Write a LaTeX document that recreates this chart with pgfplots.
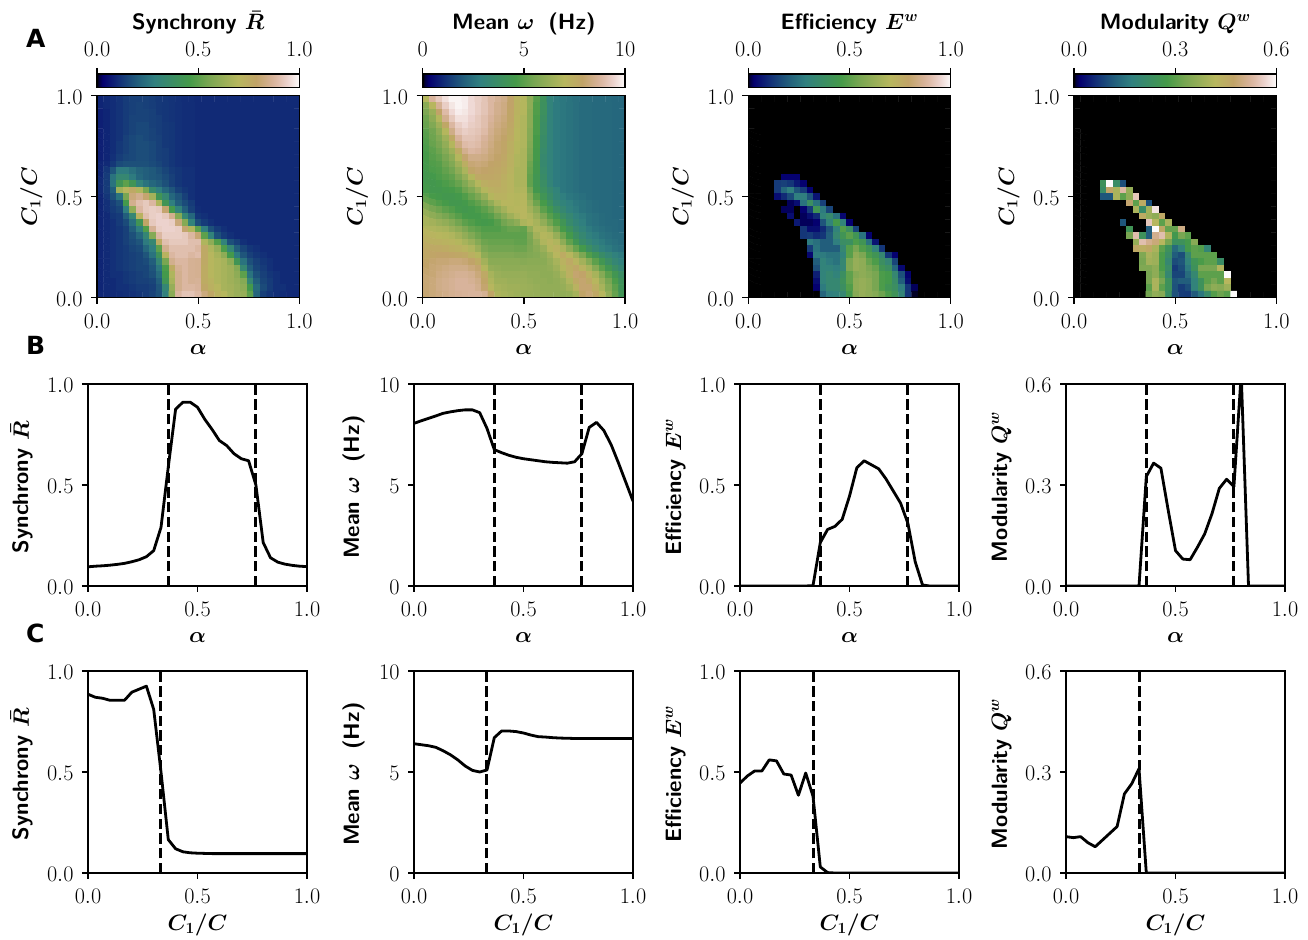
\RequirePackage{fix-cm}
\documentclass[border=0pt]{standalone}
\usepackage[no-math]{fontspec}
\usepackage{pgfplots}
\usepackage{pgfplotstable}
\pgfplotsset{compat=1.18}
\newfontfamily\panelfont{DejaVu Sans}
\newcommand{\tickfont}{\fontsize{22.2}{26}\selectfont}
\newcommand{\labfont}{\fontsize{22.2}{26}\selectfont\sffamily\bfseries\boldmath}

\pgfplotsset{colormap={gistx}{
 rgb(0cm)=(0,0,0) rgb(10cm)=(0,0,0) rgb(10.78cm)=(.0052,0,.2212) rgb(12.75cm)=(.0183,0,.4329)
 rgb(21cm)=(.0733,.1893,.4691) rgb(26.5cm)=(.1099,.3035,.4791) rgb(30.78cm)=(.1385,.3841,.4869)
 rgb(38.24cm)=(.1882,.502,.5004) rgb(55.88cm)=(.2714,.6036,.2845) rgb(62.16cm)=(.411,.6397,.3068)
 rgb(64.9cm)=(.4719,.6517,.3217) rgb(79.8cm)=(.7176,.7171,.3688) rgb(88.82cm)=(.7553,.6392,.4057)
 rgb(96.67cm)=(.8431,.6991,.598) rgb(99.41cm)=(.8737,.7372,.6651) rgb(104.12cm)=(.9264,.8275,.8071)
 rgb(110cm)=(.9922,.9843,.9843)}}

\ExplSyntaxOn
\NewDocumentCommand{\readheat}{mm}{
  \clist_set:Nn \l_tmpa_clist {#2}
  \use:x { \exp_not:N \pgfplotstableread[row~sep=crcr]{ z \exp_not:N \\ \clist_use:Nn \l_tmpa_clist {\\} \exp_not:N \\ } \exp_not:N #1 }
}
\ExplSyntaxOff

% 31 x 31 cells, rows from C1/C = 1 (top) to 0 (bottom); -1 = no data (drawn black)
\readheat{\heatR}{
.09,.10,.105,.115,.13,.14,.14,.14,.135,.125,.12,.115,.11,.105,.105,.10,.10,.10,.10,.10,.10,.10,.10,.10,.10,.10,.10,.10,.10,.10,.10,
.09,.10,.105,.115,.13,.14,.145,.14,.135,.125,.12,.115,.11,.105,.105,.10,.10,.10,.10,.10,.10,.10,.10,.10,.10,.10,.10,.10,.10,.10,.10,
.08,.09,.105,.115,.13,.14,.145,.145,.14,.125,.12,.115,.11,.105,.105,.10,.10,.10,.10,.10,.10,.10,.10,.10,.10,.10,.10,.10,.10,.10,.10,
.08,.09,.105,.115,.13,.145,.145,.145,.14,.135,.12,.115,.11,.105,.105,.10,.10,.10,.10,.10,.10,.10,.10,.10,.10,.10,.10,.10,.10,.10,.10,
.08,.09,.105,.115,.13,.145,.155,.155,.14,.135,.125,.12,.11,.105,.105,.10,.10,.10,.10,.10,.10,.10,.10,.10,.10,.10,.10,.10,.10,.10,.10,
.08,.09,.105,.115,.13,.145,.155,.155,.145,.135,.125,.12,.11,.105,.105,.10,.10,.10,.10,.10,.10,.10,.10,.10,.10,.10,.10,.10,.10,.10,.10,
.08,.09,.105,.115,.14,.155,.165,.155,.145,.14,.125,.12,.11,.105,.105,.10,.10,.10,.10,.10,.10,.10,.10,.10,.10,.10,.10,.10,.10,.10,.10,
.08,.09,.105,.125,.14,.155,.165,.165,.155,.14,.125,.12,.11,.105,.105,.10,.10,.10,.10,.10,.10,.10,.10,.10,.10,.10,.10,.10,.10,.10,.10,
.08,.09,.105,.125,.14,.155,.165,.165,.155,.14,.135,.12,.11,.105,.105,.10,.10,.10,.10,.10,.10,.10,.10,.10,.10,.10,.10,.10,.10,.10,.10,
.08,.09,.11,.135,.15,.155,.165,.165,.155,.14,.135,.12,.11,.105,.105,.10,.10,.10,.10,.10,.10,.10,.10,.10,.10,.10,.10,.10,.10,.10,.10,
.09,.10,.125,.16,.17,.17,.17,.17,.16,.15,.135,.12,.11,.105,.105,.10,.10,.10,.10,.10,.10,.10,.10,.10,.10,.10,.10,.10,.10,.10,.10,
.09,.12,.18,.27,.27,.24,.21,.20,.19,.17,.15,.13,.12,.11,.11,.10,.10,.10,.10,.10,.10,.10,.10,.10,.10,.10,.10,.10,.10,.10,.10,
.09,.13,.25,.33,.33,.27,.22,.20,.19,.18,.16,.14,.12,.11,.11,.10,.10,.10,.10,.10,.10,.10,.10,.10,.10,.10,.10,.10,.10,.10,.10,
.10,.13,.25,.42,.50,.42,.30,.25,.22,.20,.17,.14,.12,.11,.11,.10,.10,.10,.10,.10,.10,.10,.10,.10,.10,.10,.10,.10,.10,.10,.10,
.10,.13,.20,.64,.70,.76,.68,.55,.35,.28,.22,.18,.14,.12,.11,.10,.10,.10,.10,.10,.10,.10,.10,.10,.10,.10,.10,.10,.10,.10,.10,
.09,.12,.17,.25,.55,.82,.85,.80,.65,.42,.33,.22,.18,.14,.11,.10,.10,.10,.10,.10,.10,.10,.10,.10,.10,.10,.10,.10,.10,.10,.10,
.09,.11,.14,.17,.45,.85,.90,.92,.88,.68,.42,.28,.20,.16,.13,.10,.10,.10,.10,.10,.10,.10,.10,.10,.10,.10,.10,.10,.10,.10,.10,
.09,.11,.13,.15,.28,.60,.88,.92,.93,.92,.80,.45,.30,.20,.14,.105,.10,.10,.10,.10,.10,.10,.10,.10,.10,.10,.10,.10,.10,.10,.10,
.09,.10,.12,.13,.20,.32,.72,.90,.93,.94,.92,.85,.58,.32,.22,.12,.11,.10,.10,.10,.10,.10,.10,.10,.10,.10,.10,.10,.10,.10,.10,
.09,.10,.11,.13,.16,.24,.42,.78,.92,.94,.94,.93,.82,.58,.30,.165,.13,.11,.10,.10,.10,.10,.10,.10,.10,.10,.10,.10,.10,.10,.10,
.09,.10,.11,.12,.14,.20,.28,.48,.86,.93,.94,.94,.93,.80,.68,.50,.28,.17,.13,.11,.10,.10,.10,.10,.10,.10,.10,.10,.10,.10,.10,
.09,.10,.11,.12,.14,.17,.22,.32,.58,.88,.93,.93,.93,.92,.88,.81,.50,.30,.17,.13,.11,.10,.10,.10,.10,.10,.10,.10,.10,.10,.10,
.09,.10,.11,.12,.14,.16,.18,.27,.33,.75,.90,.92,.92,.92,.90,.90,.68,.60,.48,.30,.17,.14,.11,.10,.10,.10,.10,.10,.10,.10,.10,
.09,.10,.11,.12,.13,.15,.16,.22,.28,.50,.85,.90,.90,.90,.90,.88,.76,.68,.62,.47,.32,.20,.15,.12,.11,.10,.10,.10,.10,.10,.10,
.09,.10,.11,.12,.13,.14,.15,.18,.25,.40,.72,.88,.90,.90,.88,.895,.76,.70,.66,.60,.45,.27,.18,.14,.12,.11,.10,.10,.10,.10,.10,
.09,.10,.11,.12,.13,.14,.15,.16,.20,.32,.55,.85,.88,.88,.86,.855,.76,.70,.68,.66,.60,.42,.25,.17,.14,.12,.11,.10,.10,.10,.10,
.09,.10,.11,.12,.13,.14,.15,.15,.18,.26,.47,.75,.86,.88,.86,.855,.75,.70,.68,.66,.64,.58,.33,.20,.15,.13,.11,.10,.10,.10,.10,
.09,.10,.11,.11,.12,.13,.14,.15,.17,.23,.45,.68,.85,.88,.86,.855,.75,.70,.68,.66,.64,.60,.50,.25,.17,.14,.12,.11,.10,.10,.10,
.09,.10,.10,.11,.12,.13,.14,.14,.15,.20,.42,.66,.85,.88,.86,.865,.75,.72,.68,.66,.64,.62,.58,.33,.20,.15,.13,.11,.10,.10,.10,
.09,.10,.10,.11,.11,.12,.13,.13,.14,.18,.32,.62,.85,.88,.88,.87,.77,.73,.70,.66,.65,.63,.60,.45,.23,.16,.13,.11,.11,.10,.10,
.095,.098,.10,.103,.107,.112,.12,.13,.145,.175,.29,.59,.875,.91,.91,.885,.825,.775,.72,.695,.655,.63,.62,.50,.215,.14,.118,.108,.102,.098,.096
}
\readheat{\heatW}{
6.9,8.7,9.2,9.6,9.9,9.9,9.8,9.5,9.3,9.1,8.8,8.6,8.4,7.9,7.2,6.9,6.0,4.9,4.0,3.0,2.7,2.6,2.5,2.4,2.3,2.3,2.25,2.25,2.25,2.2,2.2,
5.9,7.0,8.6,9.3,9.7,9.9,9.8,9.5,9.3,9.1,8.8,8.5,8.3,7.9,7.2,6.9,6.0,4.8,3.9,3.0,2.7,2.6,2.5,2.4,2.3,2.3,2.25,2.25,2.25,2.2,2.2,
5.6,6.3,7.9,8.9,9.5,9.8,9.7,9.5,9.3,9.1,8.8,8.5,8.3,7.8,7.2,6.9,5.9,4.8,3.9,3.0,2.7,2.6,2.5,2.4,2.3,2.3,2.25,2.25,2.25,2.2,2.2,
5.3,6.0,6.9,8.5,9.2,9.6,9.6,9.4,9.2,9.0,8.7,8.4,8.2,7.8,7.1,6.8,5.9,4.7,3.8,3.0,2.7,2.6,2.5,2.4,2.3,2.3,2.25,2.25,2.25,2.2,2.2,
5.2,5.7,6.4,7.7,8.8,9.3,9.5,9.3,9.2,9.0,8.6,8.3,8.1,7.7,7.1,6.8,5.9,4.7,3.7,3.0,2.7,2.6,2.5,2.4,2.3,2.3,2.25,2.25,2.25,2.2,2.2,
5.0,5.4,6.0,6.9,8.4,9.1,9.3,9.2,9.1,8.9,8.5,8.2,8.0,7.6,7.0,6.8,5.8,4.7,3.7,3.0,2.7,2.6,2.5,2.4,2.3,2.3,2.25,2.25,2.25,2.2,2.2,
4.9,5.3,5.7,6.4,7.6,8.7,9.1,9.1,9.0,8.7,8.4,8.1,7.9,7.5,7.0,6.8,5.8,4.6,3.6,3.0,2.7,2.6,2.5,2.4,2.3,2.3,2.25,2.25,2.25,2.2,2.2,
4.8,5.2,5.5,6.1,6.9,8.3,8.9,9.0,8.9,8.6,8.3,8.0,7.8,7.4,6.9,6.8,5.7,4.6,3.6,3.0,2.7,2.6,2.5,2.4,2.3,2.3,2.25,2.25,2.25,2.2,2.2,
4.7,5.0,5.3,5.8,6.4,7.5,8.5,8.8,8.7,8.5,8.2,8.0,7.8,7.4,6.9,6.7,5.6,4.5,3.5,3.0,2.7,2.6,2.5,2.4,2.3,2.3,2.25,2.25,2.25,2.2,2.2,
4.6,4.9,5.1,5.5,6.0,6.9,8.0,8.4,8.4,8.3,8.1,7.9,7.7,7.3,6.8,6.7,5.5,4.5,3.4,3.0,2.7,2.6,2.5,2.4,2.3,2.3,2.25,2.25,2.25,2.2,2.2,
4.5,4.8,4.9,5.3,5.7,6.4,7.4,8.1,8.2,8.1,7.9,7.8,7.6,7.3,6.8,6.7,5.3,4.4,3.4,3.0,2.7,2.6,2.5,2.4,2.3,2.3,2.25,2.25,2.25,2.2,2.2,
4.5,4.7,4.8,5.1,5.4,6.0,6.7,7.8,8.0,7.9,7.8,7.7,7.5,7.2,6.7,6.7,5.2,4.4,3.5,3.0,2.7,2.6,2.5,2.4,2.3,2.3,2.25,2.25,2.25,2.2,2.2,
4.4,4.5,4.7,4.9,5.1,5.6,6.2,6.9,7.6,7.7,7.7,7.6,7.4,7.1,6.7,6.7,5.1,4.3,3.6,3.0,2.7,2.6,2.5,2.4,2.3,2.3,2.25,2.25,2.25,2.2,2.2,
4.4,4.4,4.5,4.7,4.9,5.2,5.7,6.3,6.9,7.4,7.5,7.5,7.3,7.1,6.7,6.75,5.1,4.3,3.7,3.1,2.7,2.6,2.5,2.4,2.3,2.3,2.25,2.25,2.25,2.2,2.2,
4.5,4.4,4.4,4.5,4.6,4.8,5.3,5.7,6.3,6.9,7.3,7.4,7.3,7.1,6.8,6.83,5.5,4.4,3.9,3.4,3.0,2.6,2.5,2.4,2.3,2.3,2.25,2.25,2.25,2.2,2.2,
4.8,4.6,4.5,4.4,4.4,4.5,4.8,5.2,5.6,6.2,6.9,7.2,7.2,7.0,6.9,6.93,5.9,4.9,4.2,3.6,3.1,2.8,2.6,2.5,2.4,2.3,2.25,2.25,2.25,2.2,2.2,
5.1,5.0,4.8,4.6,4.4,4.4,4.5,4.8,5.1,5.5,6.1,6.7,7.0,7.0,6.9,7.0,6.2,5.3,4.6,3.9,3.3,3.0,2.8,2.6,2.5,2.4,2.3,2.25,2.25,2.2,2.2,
5.7,5.5,5.3,5.0,4.8,4.5,4.4,4.5,4.7,5.0,5.4,6.0,6.5,6.9,7.0,7.03,6.5,5.9,5.0,4.4,3.7,3.3,2.9,2.7,2.5,2.4,2.3,2.25,2.25,2.2,2.2,
6.2,6.0,5.8,5.5,5.2,4.9,4.6,4.5,4.5,4.7,4.9,5.4,5.9,6.4,6.8,7.03,6.8,6.3,5.6,4.9,4.3,3.7,3.3,2.9,2.7,2.5,2.4,2.3,2.25,2.2,2.2,
6.6,6.5,6.3,6.1,5.8,5.4,5.0,4.8,4.6,4.5,4.6,4.9,5.4,5.7,6.0,6.7,6.9,6.6,6.1,5.4,4.8,4.2,3.5,3.1,2.8,2.5,2.4,2.3,2.25,2.25,2.2,
6.8,6.8,6.7,6.6,6.3,6.0,5.6,5.2,5.0,4.8,4.8,4.8,5.0,5.2,5.2,5.1,6.1,6.8,6.7,6.2,5.4,4.6,4.0,3.4,3.0,2.7,2.5,2.4,2.3,2.25,2.2,
7.1,7.1,7.0,6.9,6.8,6.5,6.1,5.7,5.3,5.0,5.0,5.0,5.0,5.0,5.0,5.0,5.6,6.5,6.9,6.8,6.2,5.3,4.5,3.8,3.3,2.9,2.7,2.5,2.4,2.3,2.3,
7.3,7.3,7.3,7.2,7.1,6.9,6.6,6.3,5.8,5.3,5.2,5.2,5.2,5.2,5.1,5.08,5.5,6.1,6.8,7.1,6.8,6.0,5.1,4.3,3.6,3.2,2.9,2.7,2.5,2.4,2.3,
7.5,7.6,7.6,7.5,7.4,7.3,7.1,6.8,6.3,5.6,5.4,5.4,5.4,5.4,5.3,5.3,5.6,5.9,6.3,6.9,7.2,6.7,6.0,5.2,4.5,3.8,3.3,2.9,2.7,2.5,2.4,
7.7,7.8,7.9,7.9,7.8,7.7,7.6,7.3,6.9,6.0,5.7,5.7,5.7,5.7,5.6,5.6,5.7,5.8,6.0,6.4,7.0,7.5,7.0,6.4,5.6,4.8,4.2,3.6,3.2,2.9,2.7,
7.8,8.0,8.1,8.1,8.2,8.2,8.1,7.9,7.5,6.5,5.9,5.9,5.9,5.9,5.9,5.85,5.9,5.9,5.9,6.2,6.6,7.2,7.6,7.1,6.5,5.8,5.0,4.3,3.7,3.2,2.9,
7.9,8.1,8.2,8.3,8.4,8.4,8.4,8.2,8.0,6.9,6.2,6.1,6.0,6.0,6.0,6.05,6.0,6.0,6.0,6.1,6.4,6.9,7.4,7.7,7.2,6.6,5.8,5.0,4.3,3.7,3.2,
8.0,8.1,8.3,8.4,8.5,8.6,8.6,8.5,8.2,7.6,6.6,6.3,6.2,6.2,6.2,6.22,6.1,6.1,6.0,6.0,6.2,6.6,7.3,8.0,7.9,7.3,6.6,5.8,5.0,4.3,3.7,
8.1,8.2,8.4,8.5,8.6,8.7,8.7,8.6,8.4,7.8,6.8,6.4,6.4,6.3,6.3,6.3,6.2,6.1,6.1,6.0,6.1,6.3,6.8,7.6,8.0,7.6,7.0,6.3,5.5,4.7,4.0,
8.1,8.2,8.4,8.5,8.6,8.7,8.7,8.7,8.5,8.0,7.0,6.6,6.5,6.4,6.4,6.35,6.3,6.2,6.1,6.1,6.1,6.2,6.5,7.2,8.0,8.0,7.4,6.6,5.8,5.0,4.1,
8.05,8.18,8.3,8.42,8.55,8.62,8.68,8.72,8.72,8.58,7.8,6.75,6.6,6.47,6.37,6.3,6.25,6.2,6.15,6.12,6.1,6.08,6.15,6.55,7.85,8.1,7.7,7.0,6.1,5.15,4.2
}
\readheat{\heatE}{
-1,-1,-1,-1,-1,-1,-1,-1,-1,-1,-1,-1,-1,-1,-1,-1,-1,-1,-1,-1,-1,-1,-1,-1,-1,-1,-1,-1,-1,-1,-1,
-1,-1,-1,-1,-1,-1,-1,-1,-1,-1,-1,-1,-1,-1,-1,-1,-1,-1,-1,-1,-1,-1,-1,-1,-1,-1,-1,-1,-1,-1,-1,
-1,-1,-1,-1,-1,-1,-1,-1,-1,-1,-1,-1,-1,-1,-1,-1,-1,-1,-1,-1,-1,-1,-1,-1,-1,-1,-1,-1,-1,-1,-1,
-1,-1,-1,-1,-1,-1,-1,-1,-1,-1,-1,-1,-1,-1,-1,-1,-1,-1,-1,-1,-1,-1,-1,-1,-1,-1,-1,-1,-1,-1,-1,
-1,-1,-1,-1,-1,-1,-1,-1,-1,-1,-1,-1,-1,-1,-1,-1,-1,-1,-1,-1,-1,-1,-1,-1,-1,-1,-1,-1,-1,-1,-1,
-1,-1,-1,-1,-1,-1,-1,-1,-1,-1,-1,-1,-1,-1,-1,-1,-1,-1,-1,-1,-1,-1,-1,-1,-1,-1,-1,-1,-1,-1,-1,
-1,-1,-1,-1,-1,-1,-1,-1,-1,-1,-1,-1,-1,-1,-1,-1,-1,-1,-1,-1,-1,-1,-1,-1,-1,-1,-1,-1,-1,-1,-1,
-1,-1,-1,-1,-1,-1,-1,-1,-1,-1,-1,-1,-1,-1,-1,-1,-1,-1,-1,-1,-1,-1,-1,-1,-1,-1,-1,-1,-1,-1,-1,
-1,-1,-1,-1,-1,-1,-1,-1,-1,-1,-1,-1,-1,-1,-1,-1,-1,-1,-1,-1,-1,-1,-1,-1,-1,-1,-1,-1,-1,-1,-1,
-1,-1,-1,-1,-1,-1,-1,-1,-1,-1,-1,-1,-1,-1,-1,-1,-1,-1,-1,-1,-1,-1,-1,-1,-1,-1,-1,-1,-1,-1,-1,
-1,-1,-1,-1,-1,-1,-1,-1,-1,-1,-1,-1,-1,-1,-1,-1,-1,-1,-1,-1,-1,-1,-1,-1,-1,-1,-1,-1,-1,-1,-1,
-1,-1,-1,-1,-1,-1,-1,-1,-1,-1,-1,-1,-1,-1,-1,-1,-1,-1,-1,-1,-1,-1,-1,-1,-1,-1,-1,-1,-1,-1,-1,
-1,-1,-1,-1,-1,.03,.03,.03,-1,-1,-1,-1,-1,-1,-1,-1,-1,-1,-1,-1,-1,-1,-1,-1,-1,-1,-1,-1,-1,-1,-1,
-1,-1,-1,-1,.13,.14,.12,.07,.03,-1,-1,-1,-1,-1,-1,-1,-1,-1,-1,-1,-1,-1,-1,-1,-1,-1,-1,-1,-1,-1,-1,
-1,-1,-1,-1,.13,.22,.28,.18,.13,.03,-1,-1,-1,-1,-1,-1,-1,-1,-1,-1,-1,-1,-1,-1,-1,-1,-1,-1,-1,-1,-1,
-1,-1,-1,-1,.05,.10,.16,.28,.28,.18,.06,-1,-1,-1,-1,-1,-1,-1,-1,-1,-1,-1,-1,-1,-1,-1,-1,-1,-1,-1,-1,
-1,-1,-1,-1,-1,-1,.02,.05,.25,.38,.25,.14,-1,-1,-1,-1,-1,-1,-1,-1,-1,-1,-1,-1,-1,-1,-1,-1,-1,-1,-1,
-1,-1,-1,-1,-1,.02,.02,-1,.03,.13,.42,.27,.15,-1,-1,-1,-1,-1,-1,-1,-1,-1,-1,-1,-1,-1,-1,-1,-1,-1,-1,
-1,-1,-1,-1,-1,-1,.05,-1,.02,.05,.10,.30,.35,.25,.04,-1,-1,-1,-1,-1,-1,-1,-1,-1,-1,-1,-1,-1,-1,-1,-1,
-1,-1,-1,-1,-1,-1,-1,.07,.02,.02,.03,.18,.30,.45,.30,.03,-1,-1,-1,-1,-1,-1,-1,-1,-1,-1,-1,-1,-1,-1,-1,
-1,-1,-1,-1,-1,-1,-1,-1,.12,.05,.05,.10,.18,.30,.48,.38,.15,-1,-1,-1,-1,-1,-1,-1,-1,-1,-1,-1,-1,-1,-1,
-1,-1,-1,-1,-1,-1,-1,-1,.12,.13,.10,.12,.20,.33,.42,.495,.42,.25,.03,-1,-1,-1,-1,-1,-1,-1,-1,-1,-1,-1,-1,
-1,-1,-1,-1,-1,-1,-1,-1,-1,.27,.24,.20,.20,.28,.37,.385,.47,.42,.25,.06,-1,-1,-1,-1,-1,-1,-1,-1,-1,-1,-1,
-1,-1,-1,-1,-1,-1,-1,-1,-1,.13,.25,.20,.20,.20,.33,.485,.55,.48,.42,.30,.12,-1,-1,-1,-1,-1,-1,-1,-1,-1,-1,
-1,-1,-1,-1,-1,-1,-1,-1,-1,.04,.27,.27,.25,.25,.30,.49,.60,.56,.47,.42,.33,.12,.03,-1,-1,-1,-1,-1,-1,-1,-1,
-1,-1,-1,-1,-1,-1,-1,-1,-1,-1,.20,.30,.27,.25,.33,.555,.62,.60,.52,.47,.38,.32,.15,-1,-1,-1,-1,-1,-1,-1,-1,
-1,-1,-1,-1,-1,-1,-1,-1,-1,-1,.17,.30,.30,.28,.32,.56,.62,.60,.56,.52,.42,.38,.22,.04,-1,-1,-1,-1,-1,-1,-1,
-1,-1,-1,-1,-1,-1,-1,-1,-1,-1,.08,.30,.33,.30,.38,.505,.58,.60,.58,.55,.47,.45,.33,.17,.03,-1,-1,-1,-1,-1,-1,
-1,-1,-1,-1,-1,-1,-1,-1,-1,-1,.05,.30,.33,.33,.40,.505,.60,.62,.60,.55,.47,.45,.36,.20,.05,-1,-1,-1,-1,-1,-1,
-1,-1,-1,-1,-1,-1,-1,-1,-1,-1,.03,.27,.33,.33,.38,.48,.60,.62,.60,.55,.47,.42,.38,.28,.12,.02,-1,-1,-1,-1,-1,
-1,-1,-1,-1,-1,-1,-1,-1,-1,-1,-1,.215,.28,.295,.33,.445,.585,.62,.60,.58,.53,.47,.41,.31,.12,.005,-1,-1,-1,-1,-1
}
\readheat{\heatQ}{
-1,-1,-1,-1,-1,-1,-1,-1,-1,-1,-1,-1,-1,-1,-1,-1,-1,-1,-1,-1,-1,-1,-1,-1,-1,-1,-1,-1,-1,-1,-1,
-1,-1,-1,-1,-1,-1,-1,-1,-1,-1,-1,-1,-1,-1,-1,-1,-1,-1,-1,-1,-1,-1,-1,-1,-1,-1,-1,-1,-1,-1,-1,
-1,-1,-1,-1,-1,-1,-1,-1,-1,-1,-1,-1,-1,-1,-1,-1,-1,-1,-1,-1,-1,-1,-1,-1,-1,-1,-1,-1,-1,-1,-1,
-1,-1,-1,-1,-1,-1,-1,-1,-1,-1,-1,-1,-1,-1,-1,-1,-1,-1,-1,-1,-1,-1,-1,-1,-1,-1,-1,-1,-1,-1,-1,
-1,-1,-1,-1,-1,-1,-1,-1,-1,-1,-1,-1,-1,-1,-1,-1,-1,-1,-1,-1,-1,-1,-1,-1,-1,-1,-1,-1,-1,-1,-1,
-1,-1,-1,-1,-1,-1,-1,-1,-1,-1,-1,-1,-1,-1,-1,-1,-1,-1,-1,-1,-1,-1,-1,-1,-1,-1,-1,-1,-1,-1,-1,
-1,-1,-1,-1,-1,-1,-1,-1,-1,-1,-1,-1,-1,-1,-1,-1,-1,-1,-1,-1,-1,-1,-1,-1,-1,-1,-1,-1,-1,-1,-1,
-1,-1,-1,-1,-1,-1,-1,-1,-1,-1,-1,-1,-1,-1,-1,-1,-1,-1,-1,-1,-1,-1,-1,-1,-1,-1,-1,-1,-1,-1,-1,
-1,-1,-1,-1,-1,-1,-1,-1,-1,-1,-1,-1,-1,-1,-1,-1,-1,-1,-1,-1,-1,-1,-1,-1,-1,-1,-1,-1,-1,-1,-1,
-1,-1,-1,-1,-1,-1,-1,-1,-1,-1,-1,-1,-1,-1,-1,-1,-1,-1,-1,-1,-1,-1,-1,-1,-1,-1,-1,-1,-1,-1,-1,
-1,-1,-1,-1,-1,-1,-1,-1,-1,-1,-1,-1,-1,-1,-1,-1,-1,-1,-1,-1,-1,-1,-1,-1,-1,-1,-1,-1,-1,-1,-1,
-1,-1,-1,-1,-1,-1,-1,-1,-1,-1,-1,-1,-1,-1,-1,-1,-1,-1,-1,-1,-1,-1,-1,-1,-1,-1,-1,-1,-1,-1,-1,
-1,-1,-1,-1,-1,-1,-1,-1,-1,-1,-1,-1,-1,-1,-1,-1,-1,-1,-1,-1,-1,-1,-1,-1,-1,-1,-1,-1,-1,-1,-1,
-1,-1,-1,-1,.24,.60,.22,.10,-1,-1,-1,-1,-1,-1,-1,-1,-1,-1,-1,-1,-1,-1,-1,-1,-1,-1,-1,-1,-1,-1,-1,
-1,-1,-1,-1,.22,.47,.40,.53,.37,-1,-1,-1,-1,-1,-1,-1,-1,-1,-1,-1,-1,-1,-1,-1,-1,-1,-1,-1,-1,-1,-1,
-1,-1,-1,-1,.11,.11,.40,.30,.36,.55,-1,-1,-1,-1,-1,-1,-1,-1,-1,-1,-1,-1,-1,-1,-1,-1,-1,-1,-1,-1,-1,
-1,-1,-1,-1,-1,-1,-1,-1,.48,.30,.45,.10,-1,-1,-1,-1,-1,-1,-1,-1,-1,-1,-1,-1,-1,-1,-1,-1,-1,-1,-1,
-1,-1,-1,-1,-1,-1,-1,-1,-1,.40,.22,.39,.58,-1,-1,-1,-1,-1,-1,-1,-1,-1,-1,-1,-1,-1,-1,-1,-1,-1,-1,
-1,-1,-1,-1,-1,-1,-1,-1,-1,-1,.45,.38,.36,.46,-1,-1,-1,-1,-1,-1,-1,-1,-1,-1,-1,-1,-1,-1,-1,-1,-1,
-1,-1,-1,-1,-1,-1,-1,.11,-1,-1,-1,.55,.42,.30,.40,-1,-1,-1,-1,-1,-1,-1,-1,-1,-1,-1,-1,-1,-1,-1,-1,
-1,-1,-1,-1,-1,-1,-1,-1,.25,-1,-1,.12,.60,.46,.31,.31,.50,-1,-1,-1,-1,-1,-1,-1,-1,-1,-1,-1,-1,-1,-1,
-1,-1,-1,-1,-1,-1,-1,-1,.33,.54,.24,.12,.51,.54,.41,.265,.33,.30,-1,-1,-1,-1,-1,-1,-1,-1,-1,-1,-1,-1,-1,
-1,-1,-1,-1,-1,-1,-1,-1,-1,.37,.54,.51,.49,.42,.33,.235,.24,.27,.35,-1,-1,-1,-1,-1,-1,-1,-1,-1,-1,-1,-1,
-1,-1,-1,-1,-1,-1,-1,-1,-1,.46,.44,.46,.40,.30,.24,.138,.18,.27,.30,.29,.19,-1,-1,-1,-1,-1,-1,-1,-1,-1,-1,
-1,-1,-1,-1,-1,-1,-1,-1,-1,-1,.34,.40,.38,.28,.22,.118,.10,.20,.30,.30,.30,.30,-1,-1,-1,-1,-1,-1,-1,-1,-1,
-1,-1,-1,-1,-1,-1,-1,-1,-1,-1,.33,.39,.38,.28,.20,.098,.11,.18,.25,.28,.30,.30,.22,-1,-1,-1,-1,-1,-1,-1,-1,
-1,-1,-1,-1,-1,-1,-1,-1,-1,-1,.34,.34,.36,.28,.22,.078,.10,.16,.24,.33,.33,.33,.41,-1,-1,-1,-1,-1,-1,-1,-1,
-1,-1,-1,-1,-1,-1,-1,-1,-1,-1,-1,.33,.36,.30,.20,.09,.09,.14,.20,.30,.30,.30,.30,.60,-1,-1,-1,-1,-1,-1,-1,
-1,-1,-1,-1,-1,-1,-1,-1,-1,-1,-1,.33,.40,.33,.24,.108,.12,.12,.18,.24,.30,.33,.30,.42,-1,-1,-1,-1,-1,-1,-1,
-1,-1,-1,-1,-1,-1,-1,-1,-1,-1,-1,.30,.40,.30,.24,.105,.08,.10,.18,.24,.33,.36,.35,.38,-1,-1,-1,-1,-1,-1,-1,
-1,-1,-1,-1,-1,-1,-1,-1,-1,-1,-1,.325,.365,.35,.225,.105,.08,.078,.115,.155,.215,.29,.317,.295,.60,-1,-1,-1,-1,-1,-1
}

% Curves against alpha (step 1/30)
\pgfplotstableread{
R w E Q
.095 8.05 0 0
.098 8.18 0 0
.10 8.30 0 0
.103 8.42 0 0
.107 8.55 0 0
.112 8.62 0 0
.12 8.68 0 0
.13 8.72 0 0
.145 8.72 0 0
.175 8.58 0 0
.29 7.80 .002 0
.59 6.75 .215 .325
.875 6.60 .28 .365
.91 6.47 .295 .35
.91 6.37 .33 .225
.885 6.30 .445 .105
.825 6.25 .585 .08
.775 6.20 .62 .078
.72 6.15 .60 .115
.695 6.12 .58 .155
.655 6.10 .53 .215
.63 6.08 .47 .29
.62 6.15 .41 .317
.50 6.55 .31 .295
.215 7.85 .12 .63
.14 8.10 .005 0
.118 7.70 0 0
.108 7.00 0 0
.102 6.10 0 0
.098 5.15 0 0
.096 4.20 0 0
}\curvesA
% Curves against C1/C (step 1/30)
\pgfplotstableread{
R w E Q
.885 6.40 .445 .108
.87 6.35 .48 .105
.865 6.30 .505 .108
.855 6.22 .505 .09
.855 6.05 .56 .078
.855 5.85 .555 .098
.895 5.60 .49 .118
.91 5.30 .485 .138
.925 5.08 .385 .235
.81 5.00 .495 .265
.50 5.10 .38 .31
.165 6.70 .03 0
.12 7.03 .002 0
.105 7.03 0 0
.10 7.00 0 0
.098 6.93 0 0
.097 6.83 0 0
.096 6.75 0 0
.096 6.73 0 0
.096 6.70 0 0
.096 6.68 0 0
.096 6.67 0 0
.096 6.66 0 0
.096 6.66 0 0
.096 6.66 0 0
.096 6.66 0 0
.096 6.66 0 0
.096 6.66 0 0
.096 6.66 0 0
.096 6.66 0 0
.096 6.66 0 0
}\curvesC

\pgfplotsset{
  base/.style={
    scale only axis, anchor=south west, axis line style={line width=1.35pt},
    major tick length=6pt, tick style={line width=1.35pt,black}, tick align=outside,
    tick label style={font=\tickfont}, xmin=0, xmax=1, ymin=0,
    xtick={0,.5,1}, xticklabels={$0.0$,$0.5$,$1.0$},
    xtick pos=bottom, ytick pos=left, minor tick num=0,
    every axis x label/.style={at={(0.5,0)},anchor=base,yshift=-57pt,font=\labfont},
    every axis y label/.style={at={(0,0.49)},rotate=90,anchor=base,yshift=59pt,font=\labfont},
    xticklabel style={yshift=-6.5pt}, yticklabel style={xshift=-5pt,yshift=-1.5pt},
  },
  ylab1/.style={ymax=1,ytick={0,.5,1},yticklabels={$0.0$,$0.5$,$1.0$}},
  ylab10/.style={ymax=10,ytick={0,5,10},yticklabels={$0$,$5$,$10$},
    every axis y label/.append style={yshift=-4pt}},
  ylab6/.style={ymax=.6,ytick={0,.3,.6},yticklabels={$0.0$,$0.3$,$0.6$}},
}

% heat map: left edge, table, meta min (one tenth of the range, black), meta max
\newcommand{\heatpanel}[4]{%
  \begin{axis}[base, at={(#1pt,641.3pt)}, width=202.4pt, height=202pt, ymax=1,
    ytick={0,.5,1}, yticklabels={$0.0$,$0.5$,$1.0$}, axis on top,
    colormap name=gistx, point meta min=#3, point meta max=#4,
    every axis y label/.append style={yshift=1pt,at={(0,0.5)}},
    xlabel={$\alpha$}, ylabel={$C_1/C$}]
    \addplot[matrix plot*, mesh/cols=31, point meta=\thisrow{z}]
      table[x index=0, y index=0, x expr={(mod(\coordindex,31)+.5)/31}, y expr={1-(floor(\coordindex/31)+.5)/31}] {#2};
  \end{axis}}
% colour bar: left edge, labels, title
\newcommand{\barpanel}[3]{%
  \begin{axis}[base, at={(#1pt,851.5pt)}, width=202.4pt, height=13.5pt, ymax=1, ytick=\empty,
    xtick pos=top, xticklabel pos=upper, xticklabels={#2}, axis on top,
    xticklabel style={yshift=14.5pt},
    colormap name=gistx, point meta min=-0.1, point meta max=1,
    title={#3}, title style={at={(0.5,1)},anchor=base,yshift=38pt,font=\labfont}]
    \addplot[surf, shader=interp, mesh/rows=2, point meta=x] coordinates {(0,0) (1,0) (0,1) (1,1)};
  \end{axis}}
% curve panel: left, bottom, ylim style, ylabel, table, column, xlabel, vline1, vline2
\newcommand{\curvepanel}[9]{%
  \begin{axis}[base, at={(#1pt,#2pt)}, width=219pt, height=202pt, #3, ylabel={#4}, xlabel={#7}]
    \addplot[black, line width=2.8pt, line join=round] table[x expr=\coordindex/30, y=#6] {#5};
    \addplot[black, line width=3pt, dash pattern=on 10.3pt off 4.4pt] coordinates {(#8,0) (#8,10)};
    \ifx&#9&\else\addplot[black, line width=3pt, dash pattern=on 10.3pt off 4.4pt] coordinates {(#9,0) (#9,10)};\fi
  \end{axis}}
\newcommand{\meanw}{Mean~$\omega$~\hspace{6pt}(Hz)}

\begin{document}
\begin{tikzpicture}[x=1pt,y=1pt]
\path[use as bounding box] (0,0) rectangle (1308,939);

\heatpanel{97}{\heatR}{-0.1}{1}
\heatpanel{422.7}{\heatW}{-1}{10}
\heatpanel{748.3}{\heatE}{-0.1}{1}
\heatpanel{1074}{\heatQ}{-0.06}{0.6}
\barpanel{97}{$0.0$,$0.5$,$1.0$}{Synchrony~$\bar{R}$}
\barpanel{422.7}{$0$,$5$,$10$}{\meanw}
\barpanel{748.3}{$0.0$,$0.5$,$1.0$}{Efficiency~$E^{w}$}
\barpanel{1074}{$0.0$,$0.3$,$0.6$}{Modularity~$Q^{w}$}

\curvepanel{88}{353}{ylab1}{Synchrony~$\bar{R}$}{\curvesA}{R}{$\alpha$}{.3667}{.7667}
\curvepanel{414}{353}{ylab10}{\meanw}{\curvesA}{w}{$\alpha$}{.3667}{.7667}
\curvepanel{740}{353}{ylab1}{Efficiency~$E^{w}$}{\curvesA}{E}{$\alpha$}{.3667}{.7667}
\curvepanel{1066}{353}{ylab6}{Modularity~$Q^{w}$}{\curvesA}{Q}{$\alpha$}{.3667}{.7667}

\curvepanel{88}{66}{ylab1}{Synchrony~$\bar{R}$}{\curvesC}{R}{$C_1/C$}{.3333}{}
\curvepanel{414}{66}{ylab10}{\meanw}{\curvesC}{w}{$C_1/C$}{.3333}{}
\curvepanel{740}{66}{ylab1}{Efficiency~$E^{w}$}{\curvesC}{E}{$C_1/C$}{.3333}{}
\curvepanel{1066}{66}{ylab6}{Modularity~$Q^{w}$}{\curvesC}{Q}{$C_1/C$}{.3333}{}

\node[anchor=base west,inner sep=0pt,font=\fontsize{25}{30}\panelfont\bfseries] at (26,891) {A};
\node[anchor=base west,inner sep=0pt,font=\fontsize{25}{30}\panelfont\bfseries] at (26,584) {B};
\node[anchor=base west,inner sep=0pt,font=\fontsize{25}{30}\panelfont\bfseries] at (26,296) {C};
\end{tikzpicture}
\end{document}
